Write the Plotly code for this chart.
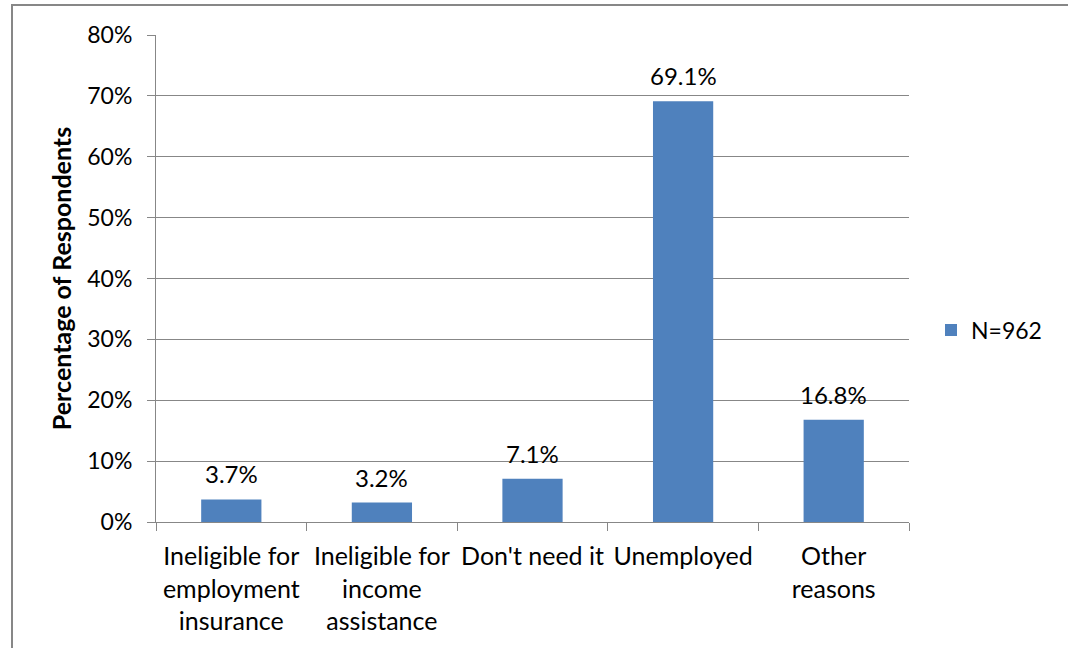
import plotly.graph_objects as go

# Survey results: reasons respondents gave
categories = [
    "Ineligible for<br>employment<br>insurance",
    "Ineligible for<br>income<br>assistance",
    "Don't need it",
    "Unemployed",
    "Other<br>reasons",
]
values = [3.7, 3.2, 7.1, 69.1, 16.8]
value_labels = ["3.7%", "3.2%", "7.1%", "69.1%", "16.8%"]
series_name = "N=962"
y_ticks = [0, 10, 20, 30, 40, 50, 60, 70, 80]
y_tick_labels = ["0%", "10%", "20%", "30%", "40%", "50%", "60%", "70%", "80%"]

FONT = "Lato, 'Open Sans', sans-serif"
GRID = "#878787"
BAR = "#4F81BD"

W, H = 1068, 648
L, R, T, B = 156, 159, 35, 126
pw, ph = W - L - R, H - T - B

fig = go.Figure()
fig.add_trace(go.Bar(
    x=categories,
    y=values,
    name=series_name,
    marker=dict(color=BAR, line=dict(width=0)),
    width=0.4,
    showlegend=True,
))

# value labels above each bar
for c, v, t in zip(categories, values, value_labels):
    fig.add_annotation(
        x=c, y=v, text=t, showarrow=False,
        yanchor="bottom", yshift=9,
        font=dict(family=FONT, size=24, color="#000000"),
    )

# outer chart frame
fig.add_shape(
    type="rect", xref="paper", yref="paper",
    x0=(12 - L) / pw, x1=1.3,
    y0=-0.6, y1=(H - B - 5) / ph,
    line=dict(color=GRID, width=2), fillcolor="rgba(0,0,0,0)",
    layer="below",
)

fig.update_layout(
    width=W, height=H,
    margin=dict(l=L, r=R, t=T, b=B, pad=0, autoexpand=False),
    paper_bgcolor="#FFFFFF",
    plot_bgcolor="#FFFFFF",
    font=dict(family=FONT, size=23, color="#000000"),
    showlegend=True,
    legend=dict(
        x=(931 - L) / pw, y=(H - B - 330) / ph,
        xanchor="left", yanchor="middle",
        font=dict(family=FONT, size=23, color="#000000"),
        bgcolor="rgba(0,0,0,0)",
        itemwidth=30,
    ),
    xaxis=dict(
        type="category",
        automargin=False,
        tickangle=0,
        showline=True, linecolor=GRID, linewidth=1,
        ticks="outside", tickson="boundaries", ticklen=8,
        tickcolor=GRID, tickwidth=1,
        showgrid=False,
        tickfont=dict(family=FONT, size=25, color="#000000"),
        ticklabelstandoff=12,
    ),
    yaxis=dict(
        automargin=False,
        range=[0, 80],
        tickmode="array",
        tickvals=y_ticks,
        ticktext=y_tick_labels,
        showline=True, linecolor=GRID, linewidth=1,
        ticks="outside", ticklen=8, tickcolor=GRID, tickwidth=1,
        showgrid=True, gridcolor=GRID, gridwidth=1,
        zeroline=False,
        tickfont=dict(family=FONT, size=23, color="#000000"),
        ticklabelstandoff=10,
        title=dict(
            text="<b>Percentage of Respondents</b>",
            font=dict(family=FONT, size=25, color="#000000"),
            standoff=8,
        ),
    ),
    bargap=0.6,
)

fig.write_html("out.html")
